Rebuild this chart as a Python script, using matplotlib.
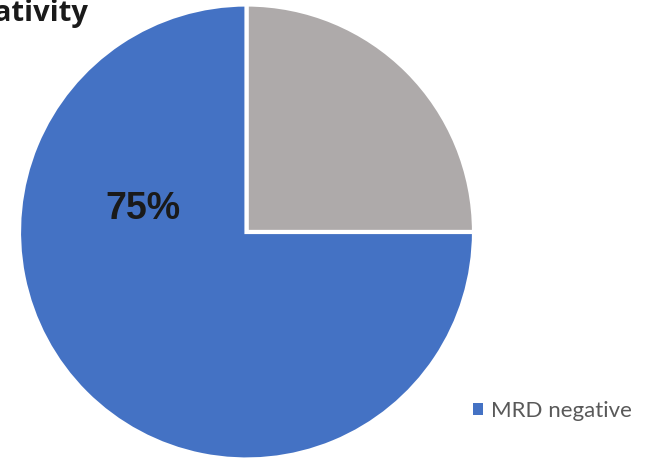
import matplotlib.pyplot as plt

labels = ['Other', 'MRD negative']
shares = [25, 75]
colors = ['#AEAAAA', '#4472C4']
title = 'MRD negativity'

fig = plt.figure(figsize=(6.46, 4.59), dpi=100)
ax = fig.add_axes([0, 0, 1, 1])

wedges, _ = ax.pie(shares, colors=colors, startangle=90, counterclock=False,
                   radius=1, wedgeprops=dict(edgecolor='white', linewidth=3))

# pie sits left of centre, bottom touching the lower edge
r_px = 227.5
ax.set_xlim(-246.5 / r_px, (646 - 246.5) / r_px)
ax.set_ylim(-227 / r_px, 232 / r_px)
ax.set_aspect('equal', adjustable='datalim')
ax.axis('off')

ax.text(-0.455, 0.1, f'{shares[1]}%', ha='center', va='center',
        fontsize=27, fontweight='bold', family='Liberation Sans', color='#1a1a1a')

fig.text(88 / 646, 1 - 21 / 459, title, ha='right', va='baseline',
         fontsize=21, fontweight='bold', family='Open Sans', color='#1a1a1a')

leg = ax.legend([wedges[1]], [labels[1]], loc='center left',
                bbox_to_anchor=(453 / 646, 1 - 411 / 459), frameon=False,
                handlelength=0.45, handleheight=0.45, handletextpad=0.35,
                prop=dict(family='Lato', size=16))
for t in leg.get_texts():
    t.set_color('#595959')
leg.legend_handles[0].set_edgecolor('none')

fig.savefig('out.png', dpi=100)
